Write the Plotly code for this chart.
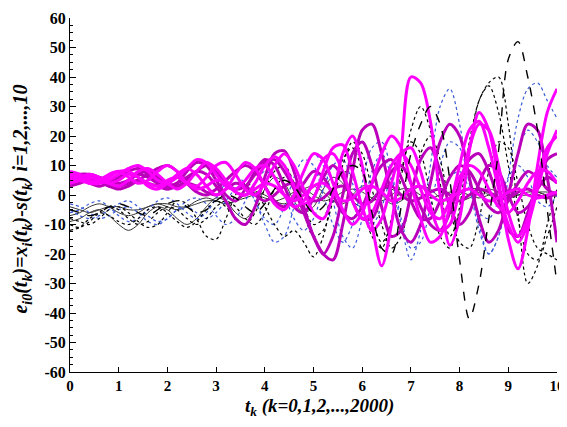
import numpy as np
import plotly.graph_objects as go

# sample times t_k (every 0.2 s)
t = np.round(np.arange(51) * 0.2, 1)

# bright magenta thick lines
A1 = [7,6,4,5,7,8,6,4,5,8,10,8,4,3,6,10,11,7,2,0,4,10,14,10,2,-6,-8,0,14,20,10,-10,-24,-10,15,40,38,25,0,-17,-8,15,28,22,5,-15,-25,-12,10,28,36]
A2 = [5,6,7,6,4,3,5,8,9,7,4,2,4,8,11,9,5,1,0,4,10,13,10,3,-3,-1,8,16,17,8,-4,-12,-8,4,14,16,8,-4,-12,-10,2,16,24,22,10,-6,-14,-8,6,16,20]
A3 = [6,5,4,4,6,8,8,6,3,2,4,7,9,7,3,0,2,7,11,9,3,-3,-5,0,8,14,12,4,-5,-10,-6,4,14,20,16,4,-8,-16,-14,-4,10,22,25,16,2,-10,-16,-10,2,14,22]
A4 = [4,5,6,5,4,5,7,6,4,3,5,6,4,2,3,5,4,1,0,2,4,3,0,-2,0,3,4,1,-2,-1,2,3,1,-2,-1,2,3,0,-2,-1,1,2,0,-2,-1,1,2,0,-1,0,1]
A5 = [8,7,5,4,5,7,9,10,8,5,4,6,9,12,11,7,3,2,5,9,10,6,0,-4,-2,5,12,14,8,-2,-8,-6,2,10,14,10,2,-6,-8,-2,6,10,8,2,-4,-6,-2,4,8,8,4]

# purple thick lines
P1 = [5,6,7,6,5,4,5,7,8,6,4,3,5,8,10,8,4,2,3,7,11,12,8,2,-6,-14,-20,-22,-10,8,22,24,14,0,-12,-16,-10,4,18,24,20,6,-8,-16,-12,0,14,24,22,6,-16]
P2 = [4,5,6,5,3,3,5,7,6,4,3,4,6,8,7,3,-2,-8,-10,-4,6,14,15,8,-4,-14,-20,-14,0,14,18,10,-4,-14,-12,0,12,16,8,-4,-10,-6,4,10,8,0,-6,-4,2,6,4]
P3 = [3,4,5,5,4,3,4,5,4,3,2,3,4,3,1,0,2,4,3,0,-2,0,3,4,1,-2,-1,2,3,0,-3,-2,2,3,0,-2,-1,1,2,0,-2,0,2,1,-1,-1,1,2,0,-1,1]
P4 = [7,6,4,3,4,6,8,9,7,4,2,4,8,11,10,5,0,-2,2,8,12,10,3,-4,-6,-1,6,10,6,-2,-8,-8,0,8,10,4,-4,-10,-12,-6,4,12,14,8,-2,-12,-14,-6,4,12,14]
P5 = [6,7,7,5,3,2,3,5,7,9,10,8,4,1,0,2,5,8,10,8,3,-2,-4,-1,4,8,6,0,-6,-8,-4,4,10,12,6,-2,-8,-8,-2,6,10,8,2,-4,-6,-2,4,8,6,2,0]

# black dashed line
D1 = [-5,-6,-7,-6,-4,-3,-4,-6,-7,-5,-3,-2,-4,-6,-5,-2,0,-1,-4,-6,-3,2,5,3,-2,-6,-4,2,8,10,8,-6,-18,-20,-4,14,24,30,24,5,-22,-42,-30,-8,15,46,52,40,22,-5,-30]

# black dotted lines
K1 = [-8,-9,-10,-8,-5,-4,-6,-9,-11,-10,-6,-2,-3,-8,-14,-15,-8,0,4,2,-4,-10,-14,-12,-16,-21,-14,0,8,6,-4,-14,-18,-8,8,18,14,0,-14,-18,-4,18,32,38,40,24,-6,-30,-24,-10,2]
K2 = [-10,-11,-9,-6,-4,-5,-8,-10,-9,-6,-4,-5,-8,-10,-8,-4,-2,-4,-8,-10,-6,2,6,4,-4,-10,-8,2,12,16,8,-8,-16,-10,6,22,30,22,4,-14,-6,14,32,37,28,10,-8,-20,-22,-14,-4]
K3 = [-12,-11,-8,-6,-7,-9,-10,-8,-5,-4,-6,-9,-11,-9,-5,-2,-4,-8,-10,-6,2,8,10,4,-6,-14,-12,-2,10,18,14,2,-10,-18,-14,0,14,20,12,-4,-16,-18,-8,8,18,16,4,-10,-18,-20,-22]

# dark solid thin lines
G1 = [-4,-5,-6,-5,-4,-4,-5,-5,-4,-3,-3,-4,-4,-3,-2,-2,-3,-2,-1,0,-1,-2,-1,1,2,0,-2,-1,1,2,1,-1,-2,0,2,2,0,-1,0,1,1,0,-1,0,1,1,0,0,1,1,1]
G2 = [-7,-6,-4,-3,-4,-6,-7,-6,-4,-3,-4,-5,-4,-2,-1,-2,-3,-2,0,1,0,-2,-3,-1,2,3,1,-2,-3,0,3,3,0,-3,-2,1,3,2,-1,-2,0,2,2,0,-1,0,1,2,1,0,1]
G3 = [-9,-8,-6,-5,-7,-10,-12,-10,-6,-4,-5,-8,-10,-8,-4,-1,-2,-6,-8,-4,2,6,4,-2,-6,-4,2,6,4,-2,-4,-1,2,2,0,-2,-1,1,2,0,-2,-1,1,2,1,-1,0,1,1,0,0]

# blue dotted lines
B1 = [-3,-4,-6,-8,-7,-5,-4,-6,-9,-10,-8,-5,-4,-6,-8,-6,-2,2,3,-2,-10,-16,-14,-4,8,14,10,-2,-14,-18,-8,8,14,6,-10,-22,-12,10,30,36,24,4,-12,-20,-14,0,14,22,18,10,6]
B2 = [-6,-5,-3,-2,-4,-7,-9,-8,-5,-2,-1,-3,-6,-8,-6,-1,4,6,4,-2,-8,-10,-4,6,12,10,0,-10,-16,-10,4,16,18,8,-8,-18,-16,-4,10,18,16,4,-10,-20,-14,6,26,36,38,32,26]
B3 = [-5,-7,-8,-7,-5,-3,-2,-4,-7,-9,-8,-5,-2,-1,-3,-7,-10,-8,-2,4,8,6,0,-8,-12,-8,2,10,12,4,-6,-10,-4,6,10,4,-4,-8,-2,6,8,2,-6,-8,-2,6,10,6,-2,-4,0]

x_ticks = [0,1,2,3,4,5,6,7,8,9,10]
y_ticks = [-60,-50,-40,-30,-20,-10,0,10,20,30,40,50,60]

MAG = "#ff00ff"
PUR = "#bb00bb"
BLU = "#3a5ad8"
BLK = "#000000"
GRY = "#333333"

fig = go.Figure()

def add(y, color, width, dash="solid"):
    fig.add_trace(go.Scatter(x=t, y=y, mode="lines",
                             line=dict(color=color, width=width, dash=dash,
                                       shape="spline", smoothing=0.9),
                             showlegend=False, hoverinfo="skip"))

for s in (G1, G2, G3):
    add(s, GRY, 1)
for s in (B1, B2, B3):
    add(s, BLU, 1.2, "dot")
for s in (K1, K2, K3):
    add(s, BLK, 1.2, "dot")
for s in (P1, P2, P3, P4, P5):
    add(s, PUR, 3)
for s in (A1, A2, A3, A4, A5):
    add(s, MAG, 3)
add(D1, BLK, 1.4, "dash")

FF = "'Liberation Serif', 'Times New Roman', Times, serif"

# page has an 8px body margin: figure is sized so the plot area lands at the reference pixels
fig.update_layout(
    template="none",
    width=559, height=419,
    margin=dict(l=62, r=10, t=10, b=55, autoexpand=False),
    paper_bgcolor="white", plot_bgcolor="white",
    font=dict(family=FF, color="black"),
)
fig.update_xaxes(
    range=[0, 10], tickvals=x_ticks, ticktext=[f"<b>{v}</b>" for v in x_ticks],
    automargin=False, ticklabeloverflow="allow",
    showgrid=False, zeroline=False, showline=True, linecolor="black", linewidth=1,
    ticks="inside", ticklen=5, tickcolor="black",
    tickfont=dict(size=15, family=FF, color="black"),
)
fig.update_yaxes(
    range=[-60, 60], tickvals=y_ticks, ticktext=[f"<b>{v}</b>" for v in y_ticks],
    automargin=False, ticklabeloverflow="allow",
    showgrid=False, zeroline=False, showline=True, linecolor="black", linewidth=1,
    ticks="inside", ticklen=6, tickcolor="black",
    minor=dict(dtick=2.5, ticks="inside", ticklen=3, tickcolor="black", showgrid=False),
    tickfont=dict(size=16, family=FF, color="black"),
)

# axis titles as annotations for exact placement
fig.add_annotation(
    text="<b><i>t<sub>k</sub> (k=0,1,2,...,2000)</i></b>",
    xref="paper", yref="paper", x=0.513, y=0, xanchor="center", yanchor="top",
    yshift=-21, showarrow=False, font=dict(size=19, family=FF, color="black"),
)
fig.add_annotation(
    text="<b><i>e<sub>i0</sub>(t<sub>k</sub>)=x<sub>i</sub>(t<sub>k</sub>)-s(t<sub>k</sub>) i=1,2,...,10</i></b>",
    xref="paper", yref="paper", x=0, y=0.487, xanchor="center", yanchor="middle",
    xshift=-48, textangle=-90, showarrow=False, font=dict(size=20, family=FF, color="black"),
)

fig.write_html("out.html")
